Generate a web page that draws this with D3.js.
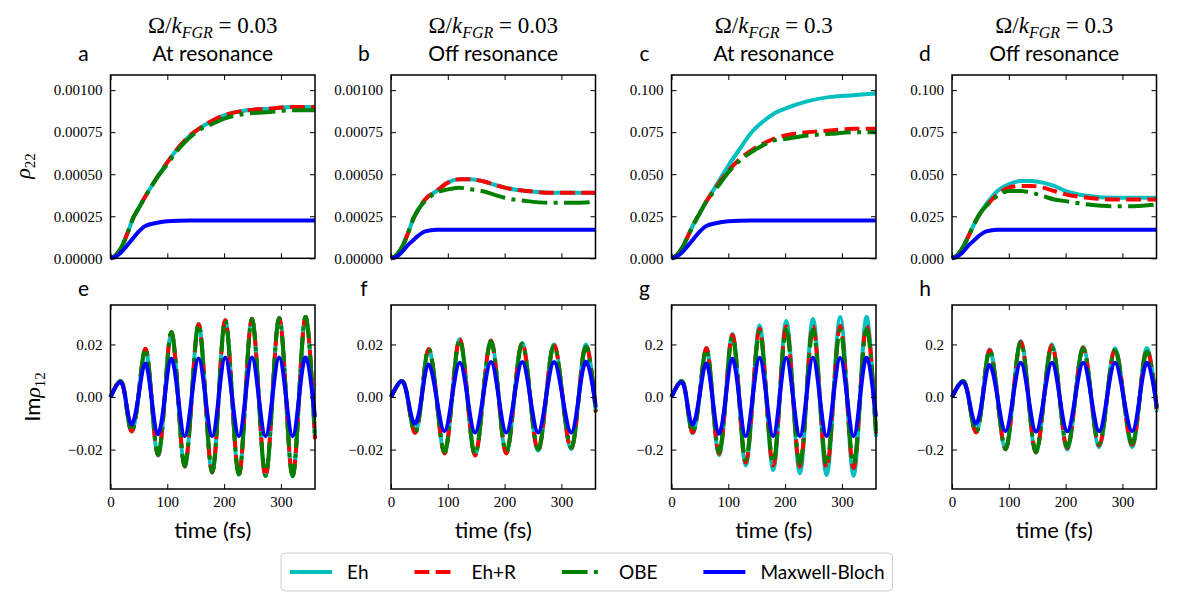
<!DOCTYPE html>
<html>
<head>
<meta charset="utf-8">
<script src="https://cdn.jsdelivr.net/npm/d3@7"></script>
<style>
  body { margin: 0; background: #fff; }
  .tick text { font-family: "Liberation Serif", serif; font-size: 15px; fill: #000; }
  .tick line { stroke: #000; }
  .sans { font-family: "Lato", "Liberation Sans", sans-serif; }
  .serif { font-family: "Liberation Serif", serif; }
</style>
</head>
<body>
<script>
(function() {

    const width = 1177;
    const height = 604;

    // ---- data ----
    // top row: rho_22 vs time (fs)
    const tRise = [0, 10, 20, 30, 40, 50, 60, 80, 100, 120, 140, 160, 180, 200, 240, 280, 320, 360];

    const aEh  = [0, .00002, .00007, .00015, .00024, .0003, .00036, .00047, .00057, .00066, .00073, .00078, .00082, .00085, .00088, .00089, .0009, .0009];
    const aEhR = [0, .00002, .00007, .00015, .00024, .0003, .00036, .00047, .00057, .00066, .00073, .00078, .00082, .00085, .00088, .00089, .0009, .0009];
    const aOBE = [0, .00002, .00007, .00015, .00024, .0003, .00036, .00047, .00056, .00065, .00072, .00077, .0008, .00083, .00086, .00087, .00088, .00088];
    const aMB  = [0, .000012, .00004, .00008, .00012, .00016, .00019, .00021, .00022, .000224, .000225, .000225, .000225, .000225, .000225, .000225, .000225, .000225];

    const bEh  = [0, .00002, .00007, .00015, .00024, .0003, .00035, .0004, .00045, .00047, .00047, .00046, .00044, .00042, .0004, .00039, .00039, .00039];
    const bEhR = [0, .00002, .00007, .00015, .00024, .0003, .00035, .0004, .00045, .00047, .00047, .00046, .00044, .00042, .0004, .00039, .00039, .00039];
    const bOBE = [0, .00002, .00007, .00015, .00024, .0003, .00034, .00039, .00041, .00042, .00041, .0004, .00038, .00036, .00034, .00033, .00033, .000335];
    const bMB  = [0, .00001, .00004, .00008, .00011, .00014, .00016, .00017, .00017, .00017, .00017, .00017, .00017, .00017, .00017, .00017, .00017, .00017];

    const cEh  = [0, .002, .007, .014, .021, .027, .033, .044, .055, .065, .0745, .081, .086, .089, .0935, .096, .097, .098];
    const cEhR = [0, .002, .007, .014, .021, .027, .033, .043, .052, .059, .064, .068, .071, .073, .075, .076, .077, .077];
    const cOBE = [0, .002, .007, .014, .021, .027, .033, .042, .051, .058, .063, .067, .07, .071, .073, .074, .075, .075];
    const cMB  = [0, .0012, .004, .008, .012, .016, .019, .021, .022, .0224, .0225, .0225, .0225, .0225, .0225, .0225, .0225, .0225];

    const dEh  = [0, .002, .007, .014, .021, .027, .032, .04, .044, .046, .046, .045, .043, .04, .037, .036, .036, .036];
    const dEhR = [0, .002, .007, .014, .021, .027, .031, .038, .042, .043, .043, .042, .04, .038, .036, .035, .035, .035];
    const dOBE = [0, .002, .007, .014, .021, .027, .031, .037, .04, .04, .039, .037, .035, .034, .032, .031, .031, .032];
    const dMB  = [0, .0012, .004, .008, .011, .014, .016, .017, .017, .017, .017, .017, .017, .017, .017, .017, .017, .017];

    // bottom row: Im rho_12 vs time, sampled at extrema and zero crossings
    const tAt  = [0, 16, 26, 36.5, 49, 61, 72, 83.5, 95.5, 107, 119, 130.5, 143, 155, 167, 179, 190.5, 202, 214, 226, 237.5, 249, 261, 273, 285, 297, 309, 320.5, 332, 344, 356, 360];
    const tOff = [0, 17.5, 29, 41.5, 54, 66, 80, 94, 107.5, 121, 134.5, 148, 162, 176, 189.5, 203, 217, 231, 245, 259, 273, 287, 302, 317, 330.5, 344, 358, 360];

    const eEh  = [0, .006, 0, -.0128, 0, .0182, 0, -.0222, 0, .0245, 0, -.0265, 0, .0278, 0, -.0288, 0, .0292, 0, -.0296, 0, .0298, 0, -.0301, 0, .0301, 0, -.0302, 0, .0302, 0, -.016];
    const eEhR = [0, .006, 0, -.013, 0, .0183, 0, -.022, 0, .0246, 0, -.0264, 0, .0277, 0, -.0287, 0, .0292, 0, -.0296, 0, .0298, 0, -.0301, 0, .0301, 0, -.0302, 0, .0303, 0, -.016];
    const eOBE = [0, .006, 0, -.013, 0, .0184, 0, -.0218, 0, .0247, 0, -.0262, 0, .0276, 0, -.0285, 0, .0291, 0, -.0294, 0, .0297, 0, -.03, 0, .0301, 0, -.0301, 0, .0304, 0, -.015];
    const eMB  = [0, .0057, 0, -.0104, 0, .0127, 0, -.0142, 0, .0146, 0, -.0149, 0, .0146, 0, -.0149, 0, .015, 0, -.0149, 0, .015, 0, -.0149, 0, .015, 0, -.0149, 0, .015, 0, -.0076];

    const fEh  = [0, .006, 0, -.0135, 0, .0182, 0, -.0213, 0, .022, 0, -.022, 0, .0214, 0, -.0213, 0, .0205, 0, -.0204, 0, .02, 0, -.0198, 0, .0198, 0, -.005];
    const fEhR = [0, .006, 0, -.0135, 0, .0182, 0, -.0215, 0, .0221, 0, -.0223, 0, .0215, 0, -.0215, 0, .0205, 0, -.0203, 0, .0199, 0, -.0196, 0, .0195, 0, -.005];
    const fOBE = [0, .006, 0, -.0133, 0, .0184, 0, -.0209, 0, .0218, 0, -.0218, 0, .0211, 0, -.0209, 0, .0203, 0, -.0199, 0, .0196, 0, -.0192, 0, .019, 0, -.005];
    const fMB  = [0, .006, 0, -.0101, 0, .0124, 0, -.013, 0, .013, 0, -.0135, 0, .0133, 0, -.0135, 0, .0133, 0, -.0135, 0, .0133, 0, -.0135, 0, .0133, 0, -.003];

    const gEh  = [0, .06, 0, -.136, 0, .186, 0, -.22, 0, .24, 0, -.26, 0, .272, 0, -.278, 0, .289, 0, -.29, 0, .297, 0, -.297, 0, .304, 0, -.3, 0, .304, 0, -.152];
    const gEhR = [0, .06, 0, -.134, 0, .185, 0, -.215, 0, .236, 0, -.249, 0, .26, 0, -.26, 0, .268, 0, -.265, 0, .27, 0, -.27, 0, .27, 0, -.27, 0, .27, 0, -.137];
    const gOBE = [0, .06, 0, -.133, 0, .18, 0, -.209, 0, .228, 0, -.238, 0, .247, 0, -.249, 0, .256, 0, -.253, 0, .256, 0, -.256, 0, .253, 0, -.253, 0, .256, 0, -.13];
    const gMB  = [0, .057, 0, -.104, 0, .127, 0, -.14, 0, .146, 0, -.149, 0, .149, 0, -.149, 0, .149, 0, -.149, 0, .149, 0, -.149, 0, .149, 0, -.149, 0, .149, 0, -.075];

    const hEh  = [0, .06, 0, -.133, 0, .18, 0, -.2, 0, .212, 0, -.212, 0, .2, 0, -.2, 0, .19, 0, -.19, 0, .185, 0, -.19, 0, .185, 0, -.05];
    const hEhR = [0, .06, 0, -.133, 0, .178, 0, -.198, 0, .21, 0, -.21, 0, .195, 0, -.195, 0, .187, 0, -.184, 0, .18, 0, -.182, 0, .178, 0, -.05];
    const hOBE = [0, .06, 0, -.133, 0, .177, 0, -.196, 0, .209, 0, -.209, 0, .19, 0, -.19, 0, .184, 0, -.177, 0, .177, 0, -.177, 0, .171, 0, -.05];
    const hMB  = [0, .057, 0, -.101, 0, .122, 0, -.13, 0, .13, 0, -.132, 0, .13, 0, -.13, 0, .13, 0, -.13, 0, .13, 0, -.13, 0, .13, 0, -.03];

    const seriesNames = ["Eh", "Eh+R", "OBE", "Maxwell-Bloch"];
    const panelLetters = ["a", "b", "c", "d", "e", "f", "g", "h"];
    const ratioLabels = ["0.03", "0.03", "0.3", "0.3"];
    const regimeLabels = ["At resonance", "Off resonance", "At resonance", "Off resonance"];
    const timeTicks = [0, 100, 200, 300];
    const rhoTicksSmall = [0, 0.00025, 0.0005, 0.00075, 0.001];
    const rhoTicksLarge = [0, 0.025, 0.05, 0.075, 0.1];
    const cohTicksSmall = [-0.02, 0, 0.02];
    const cohTicksLarge = [-0.2, 0, 0.2];

    // ---- styles / layout ----
    const lineStyles = [
        { color: "#00bfbf", dash: null },
        { color: "#ff0000", dash: "14.8,6.4" },
        { color: "#008000", dash: "25.6,6.4,4,6.4" },
        { color: "#0000ff", dash: null }
    ];
    const lineWidth = 4;
    const panelW = 204.5;
    const colLeft = c => 110.5 + c * 280.5;
    const rowTop = [75, 305];
    const rowBottom = [258.3, 489];

    const panels = [
        { t: tRise, ys: [aEh, aEhR, aOBE, aMB], dom: [0, 0.00109], ticks: rhoTicksSmall, fmt: ".5f" },
        { t: tRise, ys: [bEh, bEhR, bOBE, bMB], dom: [0, 0.00109], ticks: rhoTicksSmall, fmt: ".5f" },
        { t: tRise, ys: [cEh, cEhR, cOBE, cMB], dom: [0, 0.109], ticks: rhoTicksLarge, fmt: ".3f" },
        { t: tRise, ys: [dEh, dEhR, dOBE, dMB], dom: [0, 0.109], ticks: rhoTicksLarge, fmt: ".3f" },
        { t: tAt,  ys: [eEh, eEhR, eOBE, eMB], dom: [-0.035, 0.035], ticks: cohTicksSmall, fmt: ".2f" },
        { t: tOff, ys: [fEh, fEhR, fOBE, fMB], dom: [-0.035, 0.035], ticks: cohTicksSmall, fmt: ".2f" },
        { t: tAt,  ys: [gEh, gEhR, gOBE, gMB], dom: [-0.35, 0.35], ticks: cohTicksLarge, fmt: ".1f" },
        { t: tOff, ys: [hEh, hEhR, hOBE, hMB], dom: [-0.35, 0.35], ticks: cohTicksLarge, fmt: ".1f" }
    ];

    let svg = d3.select("body").append("svg")
        .attr("width", width)
        .attr("height", height);

    svg.append("rect").attr("width", width).attr("height", height).attr("fill", "#fff");

    panels.forEach(function(p, i) {
        let row = Math.floor(i / 4);
        let col = i % 4;
        let left = colLeft(col);
        let x = d3.scaleLinear().domain([0, 360]).range([left, left + panelW]);
        let y = d3.scaleLinear().domain(p.dom).range([rowBottom[row], rowTop[row]]);

        let g = svg.append("g");

        // curves: smooth spline for the oscillations, monotone for the rises
        let line = d3.line()
            .x((d, k) => x(p.t[k]))
            .y(d => y(d))
            .curve(row === 1 ? d3.curveNatural : d3.curveMonotoneX);

        p.ys.forEach(function(vals, s) {
            g.append("path")
                .attr("d", line(vals))
                .attr("fill", "none")
                .attr("stroke", lineStyles[s].color)
                .attr("stroke-width", lineWidth)
                .attr("stroke-dasharray", lineStyles[s].dash)
                .attr("stroke-linejoin", "round");
        });

        // axes, ticks pointing inward on all four sides
        g.append("g")
            .attr("transform", "translate(" + left + ",0)")
            .call(d3.axisLeft(y).tickValues(p.ticks).tickFormat(d3.format(p.fmt)).tickSize(-5).tickPadding(8))
            .call(a => a.select(".domain").remove());
        g.append("g")
            .attr("transform", "translate(" + (left + panelW) + ",0)")
            .call(d3.axisRight(y).tickValues(p.ticks).tickFormat("").tickSize(-5))
            .call(a => a.select(".domain").remove());
        g.append("g")
            .attr("transform", "translate(0," + rowBottom[row] + ")")
            .call(d3.axisBottom(x).tickValues(timeTicks).tickFormat(row === 1 ? d3.format("d") : "").tickSize(-5).tickPadding(7))
            .call(a => a.select(".domain").remove());
        g.append("g")
            .attr("transform", "translate(0," + rowTop[row] + ")")
            .call(d3.axisTop(x).tickValues(timeTicks).tickFormat("").tickSize(-5))
            .call(a => a.select(".domain").remove());

        g.selectAll(".tick text").attr("font-family", null).attr("font-size", null);

        g.append("rect")
            .attr("x", left).attr("y", rowTop[row])
            .attr("width", panelW).attr("height", rowBottom[row] - rowTop[row])
            .attr("fill", "none").attr("stroke", "#000").attr("stroke-width", 1.5);

        // panel letter
        svg.append("text")
            .attr("class", "sans")
            .attr("x", left - 27).attr("y", row === 0 ? 61 : 296)
            .attr("text-anchor", "middle")
            .attr("font-size", 21)
            .text(panelLetters[i]);

        if (row === 0) {
            let cx = left + panelW / 2;
            let t1 = svg.append("text")
                .attr("class", "serif")
                .attr("x", cx).attr("y", 33)
                .attr("text-anchor", "middle")
                .attr("font-size", 23);
            t1.append("tspan").text("Ω/");
            t1.append("tspan").attr("font-style", "italic").text("k");
            t1.append("tspan").attr("font-style", "italic").attr("font-size", 16).attr("dy", 5).text("FGR");
            t1.append("tspan").attr("dy", -5).text(" = " + ratioLabels[col]);

            svg.append("text")
                .attr("class", "sans")
                .attr("x", cx).attr("y", 61)
                .attr("text-anchor", "middle")
                .attr("font-size", 21)
                .text(regimeLabels[col]);
        } else {
            svg.append("text")
                .attr("class", "sans")
                .attr("x", left + panelW / 2).attr("y", 538)
                .attr("text-anchor", "middle")
                .attr("font-size", 22)
                .text("time (fs)");
        }
    });

    // y labels
    let yl1 = svg.append("text")
        .attr("class", "serif")
        .attr("transform", "translate(30,166) rotate(-90)")
        .attr("text-anchor", "middle")
        .attr("font-size", 22);
    yl1.append("tspan").attr("font-style", "italic").text("ρ");
    yl1.append("tspan").attr("font-size", 15).attr("dy", 5).text("22");

    let yl2 = svg.append("text")
        .attr("transform", "translate(40,397) rotate(-90)")
        .attr("text-anchor", "middle")
        .attr("font-size", 22);
    yl2.append("tspan").attr("class", "sans").text("Im");
    yl2.append("tspan").attr("class", "serif").attr("font-style", "italic").text("ρ");
    yl2.append("tspan").attr("class", "serif").attr("font-size", 15).attr("dy", 5).text("12");

    // legend
    let legend = svg.append("g");
    let box = legend.append("rect")
        .attr("x", 281).attr("y", 553)
        .attr("height", 38)
        .attr("rx", 4)
        .attr("fill", "#fff")
        .attr("stroke", "#d0d0d0")
        .attr("stroke-width", 1);

    let lx = 290;
    seriesNames.forEach(function(name, s) {
        legend.append("line")
            .attr("x1", lx).attr("x2", lx + 42)
            .attr("y1", 572).attr("y2", 572)
            .attr("stroke", lineStyles[s].color)
            .attr("stroke-width", lineWidth)
            .attr("stroke-dasharray", lineStyles[s].dash);
        let txt = legend.append("text")
            .attr("class", "sans")
            .attr("x", lx + 57).attr("y", 579)
            .attr("font-size", 19)
            .text(name);
        lx = lx + 57 + txt.node().getComputedTextLength() + 46;
    });
    box.attr("width", lx - 46 + 8 - 281);

})();
</script>
</body>
</html>
